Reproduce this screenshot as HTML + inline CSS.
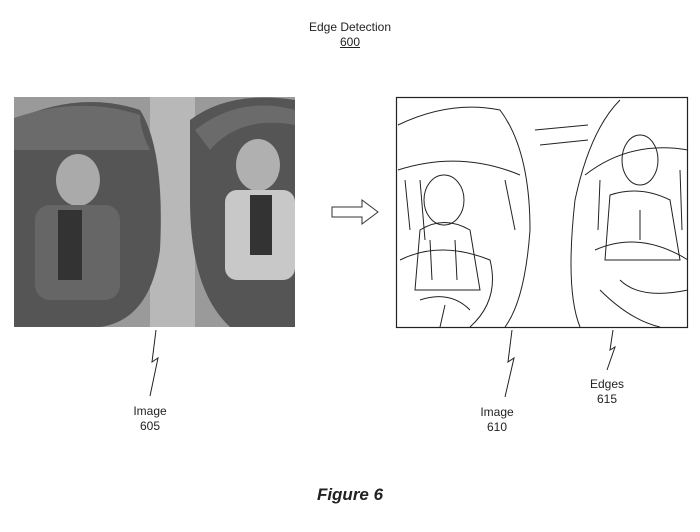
<!DOCTYPE html>
<html><head><style>
body{margin:0;width:700px;height:532px;background:#fff;font-family:"Liberation Sans",sans-serif;position:relative;overflow:hidden}
.t{position:absolute;font-size:12px;color:#222;text-align:center;line-height:15px}
</style></head><body>
<div class="t" style="left:300px;top:20px;width:100px">Edge Detection<br><span style="text-decoration:underline">600</span></div>
<div class="t" style="left:120px;top:404px;width:60px">Image<br>605</div>
<div class="t" style="left:467px;top:405px;width:60px">Image<br>610</div>
<div class="t" style="left:577px;top:377px;width:60px">Edges<br>615</div>
<div class="t" style="left:300px;top:487px;width:100px;font-size:17px;font-weight:bold;font-style:italic">Figure 6</div>
<svg width="700" height="532" style="position:absolute;left:0;top:0">
<rect x="14" y="97" width="281" height="230" fill="#9a9a9a"/>
<rect x="150" y="97" width="45" height="230" fill="#b8b8b8"/>
<path d="M14 120 Q80 90 140 110 Q165 150 160 250 Q150 320 100 327 L14 327Z" fill="#555"/>
<path d="M14 150 L150 150 Q140 130 140 115 Q80 95 14 118Z" fill="#6b6b6b"/>
<ellipse cx="78" cy="180" rx="22" ry="26" fill="#aaa"/>
<rect x="35" y="205" width="85" height="95" rx="15" fill="#666"/>
<path d="M190 120 Q230 90 295 100 L295 327 L230 327 Q190 290 190 200Z" fill="#555"/>
<path d="M210 150 Q240 115 295 125 L295 110 Q240 95 195 130Z" fill="#6b6b6b"/>
<ellipse cx="258" cy="165" rx="22" ry="26" fill="#b0b0b0"/>
<rect x="225" y="190" width="70" height="90" rx="12" fill="#c8c8c8"/>
<rect x="250" y="195" width="22" height="60" fill="#333"/>
<rect x="58" y="210" width="24" height="70" fill="#333"/>
<path d="M332 207 L362 207 L362 200 L378 212 L362 224 L362 217 L332 217Z" fill="#fff" stroke="#333" stroke-width="1"/>
<rect x="396.5" y="97.5" width="291" height="230" fill="#fff" stroke="#222" stroke-width="1.2"/>
<g fill="none" stroke="#222" stroke-width="1">
<path d="M398 125 Q450 100 500 110 Q530 150 530 230 Q525 300 505 327"/>
<path d="M398 170 Q460 150 520 175"/>
<path d="M405 180 L410 230 M420 180 L425 240 M505 180 L515 230"/>
<ellipse cx="444" cy="200" rx="20" ry="25"/>
<path d="M420 230 Q444 215 470 230 L480 290 L415 290Z"/>
<path d="M430 240 L432 280 M455 240 L457 280"/>
<path d="M400 260 Q440 240 490 260 Q500 300 470 327"/>
<path d="M420 300 Q450 290 470 310 M440 327 L445 305"/>
<path d="M580 327 Q565 290 575 200 Q590 130 620 100"/>
<path d="M585 175 Q630 140 688 150"/>
<path d="M600 180 L598 230 M680 170 L682 230"/>
<ellipse cx="640" cy="160" rx="18" ry="25"/>
<path d="M610 195 Q640 185 670 200 L680 260 L605 260Z"/>
<path d="M640 210 L640 240"/>
<path d="M595 250 Q640 230 688 260"/>
<path d="M620 280 Q640 300 688 290"/>
<path d="M600 290 Q630 320 660 327"/>
<path d="M535 130 L588 125 M540 145 L588 140"/>
<path d="M156 330 L152 362 L158 358 L150 396"/>
<path d="M512 330 L508 362 L514 358 L505 397"/>
<path d="M613 330 L610 350 L615 347 L607 370"/>
</g>
</svg>
</body></html>
